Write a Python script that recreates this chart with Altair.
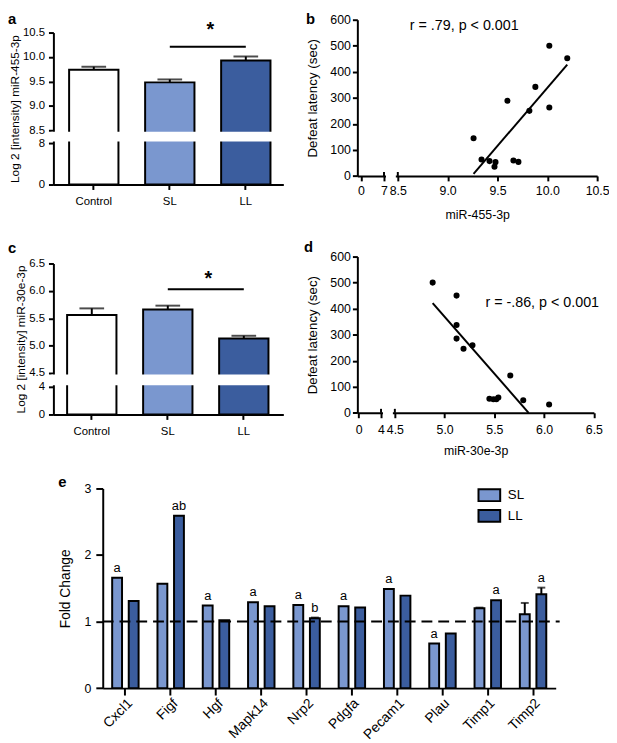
import altair as alt
import numpy as np
import pandas as pd

# ---------------- data ----------------
groups = ["Control", "SL", "LL"]
mir455_mean = [9.74, 9.48, 9.93]
mir455_sem = [0.06, 0.06, 0.08]
mir30e_mean = [5.56, 5.66, 5.13]
mir30e_sem = [0.12, 0.07, 0.05]

mir455_level = [10.02, 10.20, 9.88, 9.60, 10.02, 9.82, 9.26, 9.34, 9.42, 9.48, 9.47, 9.66, 9.71]
latency_b = [500, 452, 342, 289, 263, 250, 145, 63, 57, 53, 35, 59, 54]
mir30e_level = [4.88, 5.12, 5.12, 5.12, 5.19, 5.28, 5.66, 5.45, 5.49, 5.52, 5.54, 5.79, 6.05]
latency_d = [500, 450, 337, 285, 246, 259, 143, 54, 52, 52, 59, 48, 32]

genes = ["Cxcl1", "Figf", "Hgf", "Mapk14", "Nrp2", "Pdgfa", "Pecam1", "Plau", "Timp1", "Timp2"]
series = ["SL", "LL"]
sl_fold = [1.66, 1.57, 1.24, 1.29, 1.25, 1.23, 1.49, 0.67, 1.20, 1.11]
ll_fold = [1.31, 2.59, 1.02, 1.23, 1.05, 1.21, 1.39, 0.82, 1.32, 1.41]
sl_sem = [0, 0, 0, 0, 0, 0, 0, 0, 0.01, 0.17]
ll_sem = [0, 0, 0, 0, 0.01, 0, 0, 0, 0, 0.10]
sl_letters = ["a", "", "a", "a", "a", "a", "a", "a", "", ""]
ll_letters = ["", "ab", "", "", "b", "", "", "", "a", "a"]

# ---------------- style / layout ----------------
W, H = 609, 733
FONT = "Liberation Sans"
LIGHT = "#7a97cf"
DARK = "#3b5d9e"


def bar_panel(mean, sem, brk, top, yrange, ticks, ytitle, sig_y, star_y, align):
    df = pd.DataFrame({"group": groups, "mean": mean, "hi": np.add(mean, sem)})
    xs = alt.Scale(type="band", domain=groups, range=[46, 279], paddingInner=0.351,
                   paddingOuter=0.188, align=align)
    ys = alt.Scale(type="linear", domain=[0, brk[0], brk[1], top], range=yrange,
                   nice=False, zero=False)
    xax = alt.Axis(orient="bottom", offset=yrange[0] - H, title=None, labelAngle=0,
                   tickSize=5, labelPadding=6, labelFontSize=11.5)
    yax = alt.Axis(orient="left", offset=-46, values=ticks,
                   labelExpr=f"datum.value <= {brk[0]} ? format(datum.value, 'd') : format(datum.value, '.1f')",
                   tickSize=5, labelPadding=4, labelFontSize=11.5, title=ytitle,
                   titleFontSize=12, titlePadding=1)
    X = alt.X("group:N", scale=xs, axis=None)
    base = alt.Chart(df)
    bars = base.mark_bar(stroke="black", strokeWidth=2).encode(
        x=alt.X("group:N", scale=xs, axis=xax),
        y=alt.Y("mean:Q", scale=ys, axis=yax),
        fill=alt.Fill("group:N", scale=alt.Scale(domain=groups, range=["white", LIGHT, DARK]),
                      legend=None),
    )
    err = base.mark_rule(strokeWidth=2, color="black").encode(
        x=X, y=alt.Y("mean:Q", scale=ys, axis=None), y2="hi:Q")
    cap = base.mark_tick(size=25, thickness=2, color="black").encode(
        x=X, y=alt.Y("hi:Q", scale=ys, axis=None))
    gap = alt.Chart(pd.DataFrame({"lo": [brk[0]], "up": [brk[1]]})).mark_rect(
        color="white", yOffset=-1.5, y2Offset=1.5).encode(
        x=alt.value(44), x2=alt.value(285),
        y=alt.Y("lo:Q", scale=ys, axis=None), y2="up:Q")
    sig_df = pd.DataFrame({"g1": ["SL"], "g2": ["LL"], "y": [sig_y], "ys": [star_y], "t": ["*"]})
    sig = alt.Chart(sig_df).mark_rule(strokeWidth=2, color="black").encode(
        x=alt.X("g1:N", scale=xs, axis=None), x2="g2:N",
        y=alt.Y("y:Q", scale=ys, axis=None))
    star = alt.Chart(sig_df).mark_text(fontSize=20, fontWeight="bold", dx=41,
                                       baseline="alphabetic").encode(
        x=alt.X("g1:N", scale=xs, axis=None),
        y=alt.Y("ys:Q", scale=ys, axis=None), text="t:N")
    return [bars, err, cap, gap, sig, star]


def scatter_panel(xv, yv, xdom, xrng, y0px, y600px, brk, xticks, xtitle,
                  rtext, rx, ry, lab_pad, title_pad):
    df = pd.DataFrame({"x": xv, "y": yv})
    xs = alt.Scale(type="linear", domain=xdom, range=xrng, nice=False, zero=False)
    ys = alt.Scale(type="linear", domain=[0, 600], range=[y0px, y600px], nice=False, zero=False)
    xax = alt.Axis(orient="bottom", offset=y0px - H, values=xticks,
                   labelExpr=f"datum.value <= {brk[0]} ? format(datum.value, 'd') : format(datum.value, '.1f')",
                   tickSize=5, labelPadding=lab_pad, labelFontSize=12.5, labelFlush=False,
                   labelOverlap=False, title=xtitle, titleFontSize=12.5, titlePadding=title_pad)
    yax = alt.Axis(orient="left", offset=-354, values=list(range(0, 601, 100)),
                   tickSize=5, labelPadding=2, labelFontSize=12.5,
                   title="Defeat latency (sec)", titleFontSize=13.5, titlePadding=11)
    pts = alt.Chart(df).mark_circle(size=38, color="black", opacity=1).encode(
        x=alt.X("x:Q", scale=xs, axis=xax), y=alt.Y("y:Q", scale=ys, axis=yax))
    slope, icpt = np.polyfit(xv, yv, 1)
    x0, x1 = min(xv), max(xv)
    xz = -icpt / slope
    if slope > 0:
        x0 = max(x0, xz)
    else:
        x1 = min(x1, xz)
    fit = pd.DataFrame({"x": [x0, x1], "y": [icpt + slope * x0, icpt + slope * x1]})
    line = alt.Chart(fit).mark_line(color="black", strokeWidth=2).encode(
        x=alt.X("x:Q", scale=xs, axis=None), y=alt.Y("y:Q", scale=ys, axis=None))
    brk_df = pd.DataFrame({"a": [brk[0]], "b": [brk[1]], "z": [0]})
    gap = alt.Chart(brk_df).mark_rect(color="white", xOffset=2, x2Offset=-2,
                                      yOffset=3.5, y2Offset=-3.5).encode(
        x=alt.X("a:Q", scale=xs, axis=None), x2="b:Q",
        y=alt.Y("z:Q", scale=ys, axis=None), y2="z:Q")
    marks_df = pd.DataFrame({"x": list(brk), "z": [0, 0]})
    bmarks = alt.Chart(marks_df).mark_rule(color="black", strokeWidth=2, y2Offset=-4).encode(
        x=alt.X("x:Q", scale=xs, axis=None),
        y=alt.Y("z:Q", scale=ys, axis=None), y2="z:Q")
    txt = alt.Chart(pd.DataFrame({"x": [rx], "y": [ry], "t": [rtext]})).mark_text(
        fontSize=14.5, align="left", baseline="middle").encode(
        x=alt.X("x:Q", scale=xs, axis=None), y=alt.Y("y:Q", scale=ys, axis=None), text="t:N")
    return [pts, line, gap, bmarks, txt]


# ---------------- panels a-d ----------------
pa = bar_panel(mir455_mean, mir455_sem, (8, 8.5), 10.5, [174, 132, 119, 20],
               [0, 8, 8.5, 9, 9.5, 10, 10.5], "Log 2 [intensity] miR-455-3p",
               10.21, 10.43, 0.55)
pc = bar_panel(mir30e_mean, mir30e_sem, (4, 4.5), 6.5, [407, 379, 365, 254],
               [0, 4, 4.5, 5, 5.5, 6, 6.5], "Log 2 [intensity] miR-30e-3p",
               6.03, 6.11, 0.48)
pb = scatter_panel(mir455_level, latency_b, [-0.6, 0, 7, 8.5, 10.5],
                   [354, 357.7, 381, 395, 597], 165.3, 7, (7, 8.5),
                   [0, 7, 8.5, 9, 9.5, 10, 10.5], "miR-455-3p",
                   "r = .79, p < 0.001", 8.62, 574.6, 4, 12)
pd_ = scatter_panel(mir30e_level, latency_d, [-0.2, 0, 4, 4.5, 6.5],
                    [354, 355.3, 378, 392, 593.7], 405.3, 247, (4, 4.5),
                    [0, 4, 4.5, 5, 5.5, 6, 6.5], "miR-30e-3p",
                    "r = -.86, p < 0.001", 5.41, 421, 6, 9)

# ---------------- panel e ----------------
rows = []
for i, g in enumerate(genes):
    rows.append(dict(gene=g, series="SL", fold=sl_fold[i], sem=sl_sem[i],
                     hi=sl_fold[i] + sl_sem[i], letter=sl_letters[i]))
    rows.append(dict(gene=g, series="LL", fold=ll_fold[i], sem=ll_sem[i],
                     hi=ll_fold[i] + ll_sem[i], letter=ll_letters[i]))
df_e = pd.DataFrame(rows)

xs_e = alt.Scale(type="band", domain=genes, range=[96, 555], paddingInner=0, paddingOuter=0)
xo_e = alt.Scale(type="band", domain=series, paddingInner=0.405, paddingOuter=0.569)
ys_e = alt.Scale(type="linear", domain=[0, 3], range=[684.3, 482], nice=False, zero=False)
xax_e = alt.Axis(orient="bottom", offset=684.3 - H, title=None, labelAngle=-45,
                 labelAlign="right", labelBaseline="top", tickSize=7, labelPadding=1,
                 labelFontSize=14)
yax_e = alt.Axis(orient="left", offset=-96, values=[0, 1, 2, 3], tickSize=7, labelPadding=5,
                 labelFontSize=12.5, title="Fold Change", titleFontSize=14, titlePadding=12)
XE = alt.X("gene:N", scale=xs_e, axis=None)
XO = alt.XOffset("series:N", scale=xo_e)
# wide rectangular legend swatch (22 x 12 px); its nominal symbol size is 11 px
legend_e = alt.Legend(title=None, orient="none", legendX=481, legendY=482,
                      symbolType="M-2,-1.1H2V1.1H-2Z", symbolSize=121,
                      symbolStrokeColor="black", symbolStrokeWidth=2,
                      labelFontSize=13.5, labelOffset=12, rowPadding=0, padding=0,
                      labelColor="black", labelFont=FONT)
bars_e = alt.Chart(df_e).mark_bar(stroke="black", strokeWidth=2).encode(
    x=alt.X("gene:N", scale=xs_e, axis=xax_e), xOffset=XO,
    y=alt.Y("fold:Q", scale=ys_e, axis=yax_e),
    fill=alt.Fill("series:N", scale=alt.Scale(domain=series, range=[LIGHT, DARK]),
                  legend=legend_e))
err_e = alt.Chart(df_e).transform_filter("datum.sem > 0").mark_rule(
    strokeWidth=2, color="black").encode(
    x=XE, xOffset=XO, y=alt.Y("fold:Q", scale=ys_e, axis=None), y2="hi:Q")
cap_e = alt.Chart(df_e).transform_filter("datum.sem > 0").mark_tick(
    size=8, thickness=2, color="black").encode(
    x=XE, xOffset=XO, y=alt.Y("hi:Q", scale=ys_e, axis=None))
let_e = alt.Chart(df_e).transform_filter("datum.letter != ''").mark_text(
    fontSize=13, dy=-6, baseline="alphabetic").encode(
    x=XE, xOffset=XO, y=alt.Y("hi:Q", scale=ys_e, axis=None), text="letter:N")
dash_e = alt.Chart(pd.DataFrame({"y": [1]})).mark_rule(
    strokeDash=[11, 6], strokeWidth=2, color="black").encode(
    y=alt.Y("y:Q", scale=ys_e, axis=None), x=alt.value(96), x2=alt.value(559))
pe = [bars_e, err_e, cap_e, let_e, dash_e]

# ---------------- panel letters ----------------
def letter(t, x, y):
    return alt.Chart(pd.DataFrame({"t": [t]})).mark_text(
        align="left", baseline="alphabetic", fontSize=15, fontWeight="bold").encode(
        text="t:N", x=alt.value(x), y=alt.value(y))

letters = [letter("a", 0, 11), letter("b", 302, 11), letter("c", 0, 243),
           letter("d", 300, 242), letter("e", 51, 481)]

chart = alt.layer(*pa, *pb, *pc, *pd_, *pe, *letters).resolve_scale(
    x="independent", y="independent", fill="independent", xOffset="independent"
).resolve_axis(
    x="independent", y="independent"
).properties(
    width=W, height=H, padding=0, autosize=alt.AutoSizeParams(type="none")
).configure_view(stroke=None).configure_axis(
    domainColor="black", domainWidth=2, tickColor="black", tickWidth=2,
    labelColor="black", titleColor="black", labelFont=FONT, titleFont=FONT,
    titleFontWeight="normal", grid=False
).configure_text(font=FONT, color="black")

chart.save("out.html", embed_options={"renderer": "svg", "actions": False})
